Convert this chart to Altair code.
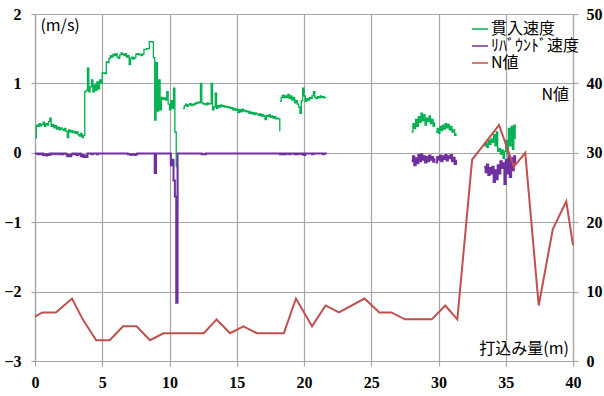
import altair as alt
import pandas as pd

STEP = 0.1  # sampling interval of the speed logs (m)

# 貫入速度 (m/s): each list is one continuous record, starting at the given depth
pen_a_start = 0.0
pen_a = [
    0.22, 0.40, 0.38, 0.42, 0.39, 0.41, 0.44, 0.38, 0.42, 0.40,
    0.45, 0.50, 0.38, 0.41, 0.36, 0.39, 0.34, 0.37, 0.33, 0.36,
    0.34, 0.32, 0.35, 0.31, 0.22, 0.33, 0.30, 0.32, 0.29, 0.31,
    0.28, 0.30, 0.26, 0.24, 0.28, 0.22, 0.25, 0.88, 0.90, 1.22,
    0.88, 0.95, 1.05, 0.88, 0.98, 0.90, 1.02, 0.92, 1.05, 1.00,
    1.15, 1.15, 1.14, 1.31, 1.30, 1.36, 1.40, 1.38, 1.42, 1.40,
    1.43, 1.38, 1.36, 1.41, 1.44, 1.42, 1.40, 1.43, 1.38, 1.40,
    1.27, 1.36, 1.38, 1.35, 1.37, 1.42, 1.43, 1.41, 1.42, 1.40,
    1.42, 1.49, 1.49, 1.50, 1.50, 1.60, 1.60, 1.60, 1.37, 0.47,
    1.30, 0.60, 1.05, 0.62, 0.80, 0.77, 0.79, 0.76, 0.88, 0.70,
    0.62, 0.75, 0.64, 0.93, 0.30, -0.20, -0.85,
]
pen_b_start = 11.0
pen_b = [
    0.64, 0.68, 0.70, 0.67, 0.69, 0.71, 0.68, 0.70, 0.69, 0.72,
    0.71, 0.73, 0.72, 1.00, 0.72, 0.70, 0.71, 0.69, 0.72, 0.70,
    0.71, 1.00, 0.62, 0.66, 0.86, 0.64, 0.68, 0.66, 0.69, 0.67,
    0.68, 0.66, 0.67, 0.65, 0.66, 0.64, 0.65, 0.62, 0.64, 0.61,
    0.63, 0.58, 0.62, 0.59, 0.63, 0.60, 0.61, 0.59, 0.60, 0.57,
    0.59, 0.56, 0.58, 0.55, 0.57, 0.56, 0.54, 0.56, 0.53, 0.55,
    0.53, 0.48, 0.54, 0.52, 0.55, 0.51, 0.53, 0.50, 0.52, 0.49,
    0.50, 0.49, 0.31,
]
pen_c_start = 18.2
pen_c = [
    0.74, 0.80, 0.83, 0.79, 0.82, 0.80, 0.84, 0.78,
    0.82, 0.76, 0.80, 0.72, 0.75, 0.70, 0.66, 0.57, 0.75, 0.93,
    0.82, 0.74, 0.78, 0.76, 0.80, 0.78, 0.82, 0.88, 0.80, 0.78,
    0.81, 0.79, 0.82, 0.80, 0.81, 0.79, 0.80,
]
pen_d_start = 28.0
pen_d = [
    0.30, 0.42, 0.35, 0.48, 0.38, 0.52, 0.44, 0.57, 0.46, 0.55,
    0.40, 0.50, 0.45, 0.53, 0.42, 0.48, 0.38, 0.44,
]
pen_e_start = 29.8
pen_e = [
    0.30, 0.35,
    0.28, 0.38, 0.32, 0.40, 0.34, 0.42, 0.36, 0.41, 0.33, 0.38,
    0.30, 0.33, 0.25, 0.28,
]
pen_f_start = 33.4
pen_f = [
    0.10, 0.14, 0.08, 0.18, 0.12, 0.20,
    0.15, 0.26, 0.10, 0.30, 0.02, 0.06, -0.02, 0.04, -0.08, 0.02,
    0.18, -0.02, 0.35, 0.10, 0.38, 0.05, 0.40, 0.20,
]

# ﾘﾊﾞｳﾝﾄﾞ速度 (m/s)
reb_a_start = 0.0
reb_a = [
    -0.01, -0.01, -0.02, -0.01, -0.02, -0.01, -0.03, -0.02, -0.04, -0.02,
    -0.03, -0.01, -0.02, -0.01, -0.01, -0.02, -0.01, -0.01, -0.02, -0.01,
    -0.02, -0.01, -0.01, -0.02, -0.05, -0.03, -0.05, -0.02, -0.01, -0.02,
    -0.01, -0.03, -0.02, -0.01, -0.05, -0.03, -0.06, -0.04, -0.06, -0.01,
    -0.01, -0.01, -0.02, -0.01, -0.01, -0.01, -0.02, -0.01, -0.01, -0.01,
    -0.01, -0.01, -0.01, -0.01, -0.01, -0.01, -0.01, -0.01, -0.01, -0.01,
    -0.01, -0.01, -0.01, -0.01, -0.01, -0.01, -0.01, -0.01, -0.01, -0.02,
    -0.02, -0.03, -0.02, -0.02, -0.03, -0.02, -0.01, -0.01, -0.01, -0.01,
    -0.01, -0.01, -0.01, -0.01, -0.01, -0.01, -0.01, -0.01, -0.01, -0.29,
    -0.01, -0.01, -0.01, -0.01, -0.01, -0.01, -0.01, -0.01, -0.01, -0.01,
    -0.01, -0.18, -0.10, -0.40, -0.63, -2.16, -0.01, -0.01, -0.01, -0.01,
    -0.01, -0.01, -0.01, -0.01, -0.01, -0.01, -0.01, -0.01, -0.01, -0.01,
    -0.01, -0.01, -0.01, -0.01, -0.02, -0.02, -0.02, -0.01, -0.01, -0.01,
    -0.01, -0.01, -0.01, -0.01, -0.01, -0.01, -0.01, -0.01, -0.01, -0.01,
    -0.01, -0.01, -0.01, -0.01, -0.01, -0.01, -0.01, -0.01, -0.01, -0.01,
    -0.01, -0.01, -0.01, -0.01, -0.01, -0.01, -0.01, -0.01, -0.01, -0.01,
    -0.01, -0.01, -0.01, -0.01, -0.01, -0.01, -0.01, -0.01, -0.01, -0.01,
    -0.01, -0.01, -0.01, -0.01, -0.01, -0.01, -0.01, -0.01, -0.01, -0.01,
    -0.01, -0.01, -0.02, -0.01, -0.02, -0.01, -0.02, -0.01, -0.01, -0.02,
    -0.01, -0.01, -0.01, -0.02, -0.01, -0.02, -0.01, -0.01, -0.02, -0.01,
    -0.03, -0.01, -0.01, -0.01, -0.01, -0.01, -0.02, -0.01, -0.01, -0.01,
    -0.01, -0.01, -0.01, -0.01, -0.02, -0.01, -0.01, -0.01,
]
reb_b_start = 28.0
reb_b = [
    -0.12, -0.05, -0.18, -0.08, -0.15, -0.03, -0.12, -0.02, -0.10, -0.05,
    -0.14, -0.06, -0.12, -0.04, -0.10, -0.06, -0.13, -0.08,
]
reb_c_start = 29.8
reb_c = [
    -0.14, -0.06,
    -0.10, -0.04, -0.12, -0.05, -0.09, -0.03, -0.11, -0.05, -0.08, -0.03,
    -0.12, -0.07, -0.16, -0.10,
]
reb_d_start = 33.4
reb_d = [
    -0.20, -0.28, -0.17, -0.32, -0.22, -0.30,
    -0.20, -0.42, -0.25, -0.38, -0.18, -0.30, -0.12, -0.22, -0.15, -0.45,
    -0.10, -0.30, -0.05, -0.35, -0.08, -0.25, -0.05, -0.15,
]

# N値 against depth (m)
n_depth = [0.0, 0.55, 1.55, 2.75, 3.55, 4.55, 5.55, 6.55, 7.55, 8.55,
           9.55, 10.55, 11.55, 12.55, 13.5, 14.5, 15.5, 16.5, 17.5, 18.5,
           19.4, 20.6, 21.6, 22.6, 24.5, 25.6, 26.5, 27.5, 28.5, 29.5,
           30.5, 31.4, 32.5, 34.5, 35.6, 36.45, 37.45, 38.5, 39.5, 40.0]
n_value = [6.4, 7, 7, 9, 6, 3, 3, 5, 5, 3,
           4, 4, 4, 4, 6, 4, 5, 4, 4, 4,
           9, 5, 8, 7, 9, 7, 7, 6, 6, 6,
           8, 6, 29, 34, 28, 30, 8, 19, 23, 16.7]

SERIES = ["貫入速度", "ﾘﾊﾞｳﾝﾄﾞ速度", "N値"]
COLORS = ["#00b050", "#7030a0", "#c0504d"]


def runs_to_frame(series, runs):
    rows = []
    for run_id, (start, values) in enumerate(runs):
        for i, v in enumerate(values):
            rows.append({"depth": round(start + i * STEP, 2), "v": v,
                         "series": series, "run": run_id})
    return pd.DataFrame(rows)


pen_df = runs_to_frame(SERIES[0], [(pen_a_start, pen_a), (pen_b_start, pen_b),
                                   (pen_c_start, pen_c), (pen_d_start, pen_d),
                                   (pen_e_start, pen_e), (pen_f_start, pen_f)])
reb_df = runs_to_frame(SERIES[1], [(reb_a_start, reb_a), (reb_b_start, reb_b),
                                   (reb_c_start, reb_c), (reb_d_start, reb_d)])
n_df = pd.DataFrame({"depth": n_depth, "n": n_value, "series": SERIES[2]})

JP_FONT = "Noto Sans CJK JP"
NUM_FONT = "Liberation Serif"
GRID = "#a6a6a6"
TEXT_SIZE = 16

color = alt.Color(
    "series:N",
    scale=alt.Scale(domain=SERIES, range=COLORS),
    legend=alt.Legend(
        title=None, orient="none", legendX=436, legendY=6,
        symbolType="stroke", symbolSize=256, symbolStrokeWidth=1.5,
        labelFont=JP_FONT, labelFontSize=TEXT_SIZE, labelColor="black",
        labelOffset=2, rowPadding=-3, padding=0,
    ),
)

x_enc = alt.X(
    "depth:Q",
    scale=alt.Scale(domain=[0, 40], nice=False, zero=False),
    axis=alt.Axis(values=list(range(0, 41, 5)), title=None, grid=True,
                  tickSize=5, labelPadding=8, labelFlush=False),
)

y_left = alt.Y(
    "v:Q",
    scale=alt.Scale(domain=[-3, 2], nice=False, zero=False),
    axis=alt.Axis(values=[-3, -2, -1, 0, 1, 2], title=None, grid=True,
                  orient="left", tickSize=4, labelPadding=10, labelFlush=False),
)

y_right = alt.Y(
    "n:Q",
    scale=alt.Scale(domain=[0, 50], nice=False, zero=False),
    axis=alt.Axis(values=[0, 10, 20, 30, 40, 50], title=None, grid=False,
                  orient="right", tickSize=5, labelPadding=8, labelFlush=False),
)

pen_line = alt.Chart(pen_df).mark_line(
    interpolate="step-after", strokeWidth=1.3
).encode(x=x_enc, y=y_left, color=color, detail="run:N")

reb_line = alt.Chart(reb_df).mark_line(
    interpolate="step-after", strokeWidth=2
).encode(x=x_enc, y=y_left, color=color, detail="run:N")

units_note = pd.DataFrame({"depth": [0.4], "v": [1.82], "label": ["(m/s)"]})
depth_note = pd.DataFrame({"depth": [39.7], "v": [-2.83], "label": ["打込み量(m)"]})

note_left = alt.Chart(units_note).mark_text(
    font=JP_FONT, fontSize=TEXT_SIZE, align="left", baseline="middle", color="black"
).encode(x=x_enc, y=y_left, text="label:N")
note_bottom = alt.Chart(depth_note).mark_text(
    font=JP_FONT, fontSize=TEXT_SIZE, align="right", baseline="middle", color="black"
).encode(x=x_enc, y=y_left, text="label:N")

n_line = alt.Chart(n_df).mark_line(strokeWidth=2).encode(
    x=x_enc, y=y_right, color=color
)
n_note = alt.Chart(pd.DataFrame({"depth": [39.7], "n": [38.4], "label": ["N値"]})).mark_text(
    font=JP_FONT, fontSize=TEXT_SIZE, align="right", baseline="middle", color="black"
).encode(x=x_enc, y=y_right, text="label:N")

left_layer = alt.layer(pen_line, reb_line, note_left, note_bottom)
right_layer = alt.layer(n_line, n_note)

chart = (
    alt.layer(left_layer, right_layer)
    .resolve_scale(y="independent")
    .properties(
        width=538, height=347,
        autosize=alt.AutoSizeParams(type="none"),
        padding={"left": 35, "top": 14, "right": 31, "bottom": 35},
        background="white",
    )
    .configure_view(stroke=None)
    .configure_axis(
        labelFont=NUM_FONT, labelFontSize=16, labelFontWeight="bold",
        labelColor="black", gridColor=GRID, gridWidth=1.2,
        domainColor=GRID, domainWidth=1.2, tickColor=GRID, tickWidth=1.2,
    )
)

chart.save("out.html", embed_options={"renderer": "svg", "actions": False})
